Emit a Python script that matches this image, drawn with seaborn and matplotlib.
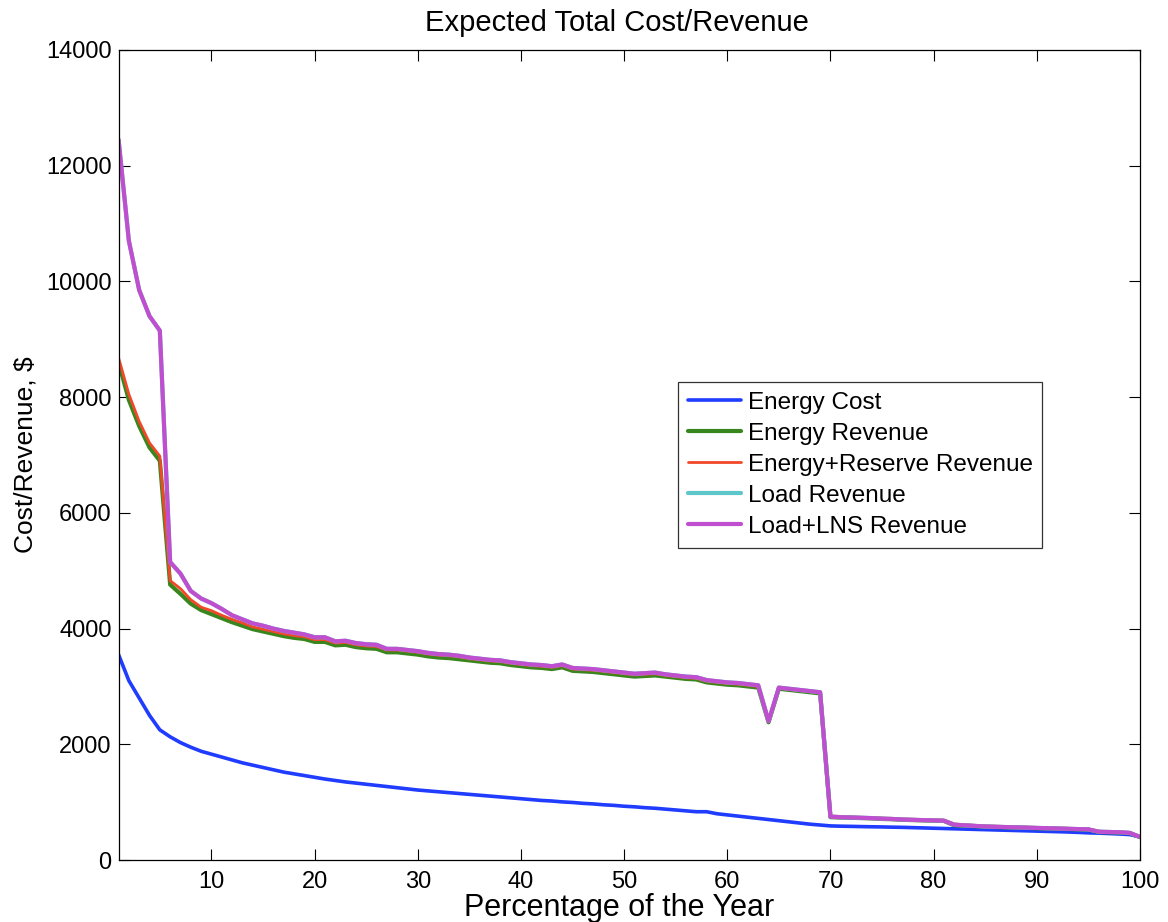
import matplotlib
matplotlib.use("Agg")
import matplotlib.pyplot as plt
import seaborn as sns
import pandas as pd

# Percentage of the year (1..100)
pct_year = list(range(1, 101))

energy_cost = [
    3550, 3100, 2800, 2500, 2250, 2130, 2030, 1950, 1880, 1830,
    1780, 1730, 1680, 1640, 1600, 1560, 1520, 1490, 1460, 1430,
    1400, 1375, 1350, 1330, 1310, 1290, 1270, 1250, 1230, 1210,
    1195, 1180, 1165, 1150, 1135, 1120, 1105, 1090, 1075, 1060,
    1045, 1030, 1020, 1005, 995, 980, 970, 955, 945, 930,
    920, 905, 895, 880, 865, 850, 835, 835, 800, 780,
    760, 740, 720, 700, 680, 660, 640, 620, 605, 590,
    585, 582, 578, 575, 572, 568, 565, 560, 555, 550,
    545, 540, 535, 530, 525, 520, 515, 510, 505, 500,
    495, 490, 485, 478, 470, 465, 458, 450, 440, 400,
]

energy_revenue = [
    8600, 7950, 7500, 7130, 6900, 4760, 4600, 4430, 4320, 4250,
    4180, 4110, 4050, 3990, 3950, 3910, 3870, 3840, 3820, 3770,
    3770, 3710, 3720, 3680, 3660, 3650, 3590, 3590, 3570, 3550,
    3520, 3500, 3490, 3470, 3450, 3430, 3410, 3400, 3370, 3350,
    3330, 3320, 3300, 3330, 3270, 3260, 3250, 3230, 3210, 3190,
    3170, 3180, 3190, 3170, 3150, 3130, 3120, 3070, 3050, 3030,
    3020, 3000, 2980, 2380, 2960, 2940, 2920, 2900, 2880, 740,
    735, 730, 725, 720, 710, 705, 695, 690, 685, 680,
    675, 600, 595, 585, 575, 570, 565, 560, 555, 550,
    545, 540, 535, 530, 525, 485, 480, 475, 465, 395,
]

energy_reserve_revenue = [
    8680, 8050, 7580, 7210, 6980, 4830, 4690, 4500, 4370, 4310,
    4230, 4160, 4100, 4030, 3990, 3950, 3910, 3880, 3860, 3810,
    3810, 3750, 3760, 3720, 3700, 3690, 3630, 3630, 3610, 3590,
    3560, 3540, 3530, 3510, 3480, 3460, 3440, 3430, 3400, 3380,
    3360, 3350, 3330, 3360, 3300, 3290, 3280, 3260, 3240, 3220,
    3200, 3210, 3220, 3190, 3170, 3150, 3140, 3090, 3070, 3050,
    3040, 3020, 3000, 2390, 2970, 2950, 2930, 2910, 2890, 760,
    755, 745, 740, 735, 725, 720, 710, 705, 700, 695,
    690, 625, 610, 600, 590, 585, 580, 575, 570, 565,
    560, 555, 550, 545, 540, 495, 490, 485, 475, 405,
]

load_revenue = [
    12450, 10700, 9850, 9400, 9150, 5150, 4950, 4650, 4520, 4440,
    4340, 4230, 4160, 4090, 4050, 4000, 3960, 3930, 3900, 3850,
    3850, 3780, 3790, 3750, 3730, 3720, 3650, 3650, 3630, 3610,
    3580, 3560, 3550, 3530, 3500, 3480, 3460, 3450, 3420, 3400,
    3380, 3370, 3350, 3380, 3320, 3310, 3300, 3280, 3260, 3240,
    3220, 3230, 3240, 3210, 3190, 3170, 3160, 3110, 3090, 3070,
    3060, 3040, 3020, 2400, 2980, 2960, 2940, 2920, 2900, 750,
    740, 735, 730, 725, 715, 710, 700, 695, 690, 685,
    680, 610, 600, 590, 580, 575, 570, 565, 560, 555,
    550, 545, 540, 535, 530, 490, 485, 480, 470, 400,
]

load_lns_revenue = [
    12450, 10700, 9850, 9400, 9150, 5150, 4950, 4650, 4520, 4440,
    4340, 4230, 4160, 4090, 4050, 4000, 3960, 3930, 3900, 3850,
    3850, 3780, 3790, 3750, 3730, 3720, 3650, 3650, 3630, 3610,
    3580, 3560, 3550, 3530, 3500, 3480, 3460, 3450, 3420, 3400,
    3380, 3370, 3350, 3380, 3320, 3310, 3300, 3280, 3260, 3240,
    3220, 3230, 3240, 3210, 3190, 3170, 3160, 3110, 3090, 3070,
    3060, 3040, 3020, 2400, 2980, 2960, 2940, 2920, 2900, 750,
    740, 735, 730, 725, 715, 710, 700, 695, 690, 685,
    680, 610, 600, 590, 580, 575, 570, 565, 560, 555,
    550, 545, 540, 535, 530, 490, 485, 480, 470, 400,
]

series_names = [
    "Energy Cost",
    "Energy Revenue",
    "Energy+Reserve Revenue",
    "Load Revenue",
    "Load+LNS Revenue",
]
series_values = [energy_cost, energy_revenue, energy_reserve_revenue,
                 load_revenue, load_lns_revenue]
series_colors = ["#1f3cff", "#3a861e", "#f2482a", "#5cc6c8", "#c04fd0"]
series_widths = [2.6, 3.0, 2.0, 3.0, 3.0]

sns.set_theme(style="white")
plt.rcParams["font.family"] = ["Liberation Sans", "DejaVu Sans"]
plt.rcParams["text.color"] = "black"
plt.rcParams["axes.labelcolor"] = "black"

fig = plt.figure(figsize=(11.68, 9.22), dpi=100)
ax = fig.add_axes([0.1015, 0.0672, 0.8745, 0.8786])

for name, vals, col, lw in zip(series_names, series_values,
                               series_colors, series_widths):
    df = pd.DataFrame({"pct": pct_year, "value": vals})
    sns.lineplot(data=df, x="pct", y="value", ax=ax, color=col,
                 linewidth=lw, label=name)

ax.set_xlim(1, 100)
ax.set_ylim(0, 14000)
ax.set_xticks(range(10, 101, 10))
ax.set_yticks(range(0, 14001, 2000))

ax.tick_params(axis="both", which="major", direction="in", length=8,
               width=0.8, colors="black", labelsize=17,
               top=True, right=True, bottom=True, left=True)
ax.tick_params(axis="x", pad=8)
ax.tick_params(axis="y", pad=5)
for sp in ax.spines.values():
    sp.set_visible(True)
    sp.set_color("black")
    sp.set_linewidth(0.9)

title = ax.set_title("Expected Total Cost/Revenue", fontsize=21, pad=14,
                     color="black")
title.set_x(0.488)
ax.set_xlabel("Percentage of the Year", fontsize=22, labelpad=0)
ax.xaxis.label.set_x(0.49)
ax.set_ylabel(r"Cost/Revenue, \$", fontsize=19, labelpad=6)

leg = ax.legend(loc="upper left", bbox_to_anchor=(0.548, 0.590),
                fontsize=17.5, frameon=True, fancybox=False,
                edgecolor="black", handlelength=2.2, handletextpad=0.25,
                labelspacing=0.37, borderpad=0.4, borderaxespad=0)
leg.get_frame().set_linewidth(0.9)
for t in leg.get_texts():
    t.set_color("black")

fig.savefig("out.png", dpi=100, facecolor="white")
